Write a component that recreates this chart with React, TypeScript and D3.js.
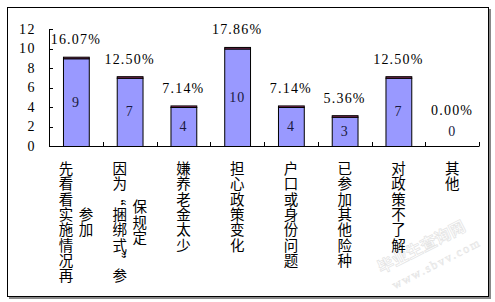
import React from 'react';
import * as d3 from 'd3';

// 参保意愿调查数据
const categories: string[][] = [
  ['先看看实施情况再', '参加'],
  ['因为“捆绑式”参', '保规定'],
  ['嫌养老金太少'],
  ['担心政策变化'],
  ['户口或身份问题'],
  ['已参加其他险种'],
  ['对政策不了解'],
  ['其他'],
];
const counts = [9, 7, 4, 10, 4, 3, 7, 0];
const percents = ['16.07%', '12.50%', '7.14%', '17.86%', '7.14%', '5.36%', '12.50%', '0.00%'];
const yTicks = [0, 2, 4, 6, 8, 10, 12];

const W = 495;
const H = 302;
const numFont = '"Liberation Serif", serif';
const cjkFont = '"Noto Sans CJK SC", sans-serif';

const App: React.FC = () => {
  const left = 49, right = 479, top = 29, bottom = 146;

  const x = d3.scaleBand<number>()
    .domain(d3.range(counts.length))
    .range([left, right])
    .paddingInner(0.52)
    .paddingOuter(0.26);

  const y = d3.scaleLinear().domain([0, 12]).range([bottom, top]);
  const step = (right - left) / counts.length;
  const cap = 0.16; // 第二系列(百分比)的细条

  const pitch = 15.3;
  const labelTop = 160;

  return (
    <svg width={W} height={H} style={{ position: 'absolute', left: 0, top: 0, background: '#fff' }}>
      {/* 外框 + 阴影 */}
      <rect x={9} y={9} width={482} height={290} fill="#888" />
      <rect x={7.5} y={7.5} width={481} height={289} fill="#fff" stroke="#000" strokeWidth={1} />

      {/* 水印 */}
      <g transform="translate(424,252) rotate(-27)" opacity={0.3}>
        <text x={0} y={0} textAnchor="middle" fontFamily={cjkFont} fontSize={16} fontWeight={700}
          fill="#fff" stroke="#aaa" strokeWidth={0.8}>毕业生查询网</text>
        <text x={6} y={20} textAnchor="middle" fontFamily={numFont} fontSize={12}
          fill="#fff" stroke="#aaa" strokeWidth={0.6} letterSpacing={2}>www.sbvv.com</text>
      </g>

      {/* 柱 */}
      {counts.map((v, i) => {
        const bx = x(i)!;
        const bw = x.bandwidth();
        return (
          <g key={i}>
            {v > 0 && (
              <>
                <rect x={bx + 0.5} y={y(v) + 0.5} width={bw} height={y(0) - y(v)}
                  fill="#9999FF" stroke="#000" strokeWidth={1} />
                <rect x={bx + 0.5} y={y(v + cap) + 0.5} width={bw} height={y(v) - y(v + cap)}
                  fill="#993366" stroke="#000" strokeWidth={1} />
              </>
            )}
          </g>
        );
      })}

      {/* 坐标轴 */}
      <line x1={left + 0.5} x2={left + 0.5} y1={top} y2={bottom + 0.5} stroke="#000" />
      <line x1={left} x2={right + 0.5} y1={bottom + 0.5} y2={bottom + 0.5} stroke="#000" />
      {yTicks.map(t => (
        <g key={t}>
          <line x1={left} x2={left + 4} y1={Math.round(y(t)) + 0.5} y2={Math.round(y(t)) + 0.5} stroke="#000" />
          <text x={36} y={y(t)} textAnchor="end" dominantBaseline="central"
            fontFamily={numFont} fontSize={14} letterSpacing={1.5} fill="#000">{t}</text>
        </g>
      ))}
      {d3.range(1, counts.length + 1).map(k => (
        <line key={k} x1={Math.round(left + k * step) + 0.5} x2={Math.round(left + k * step) + 0.5}
          y1={bottom - 4} y2={bottom} stroke="#000" />
      ))}

      {/* 数据标签 */}
      {counts.map((v, i) => {
        const cx = x(i)! + x.bandwidth() / 2;
        const inY = v > 0 ? y(v / 2) : y(0) - 15;
        const pY = v > 0 ? y(v + cap) - 17 : y(0) - 36;
        return (
          <g key={i}>
            <text x={cx} y={inY} textAnchor="middle" dominantBaseline="central"
              fontFamily={numFont} fontSize={14} letterSpacing={1} fill="#1a1a40">{v}</text>
            <text x={cx} y={pY} textAnchor="middle" dominantBaseline="central"
              fontFamily={numFont} fontSize={14} letterSpacing={1.2} fill="#000">{percents[i]}</text>
          </g>
        );
      })}

      {/* 分类标签(竖排,逐字排列) */}
      {categories.map((lines, i) => {
        const cx = x(i)! + x.bandwidth() / 2;
        const longest = d3.max(lines, l => Array.from(l).length)!;
        return (
          <g key={i}>
            {lines.map((line, li) => {
              const chars = Array.from(line);
              const colX = cx + (li - (lines.length - 1) / 2) * 20;
              const off = (longest - chars.length) / 2;
              return chars.map((ch, k) => {
                const cy = labelTop + (off + k + 0.5) * pitch;
                const isQuote = ch === '“' || ch === '”';
                return (
                  <text key={`${li}-${k}`} x={colX} y={cy} textAnchor="middle" dominantBaseline="central"
                    fontFamily={cjkFont} fontSize={14.5} fill="#000"
                    transform={isQuote ? `rotate(90,${colX},${cy})` : undefined}>{ch}</text>
                );
              });
            })}
          </g>
        );
      })}
    </svg>
  );
};

export default App;
